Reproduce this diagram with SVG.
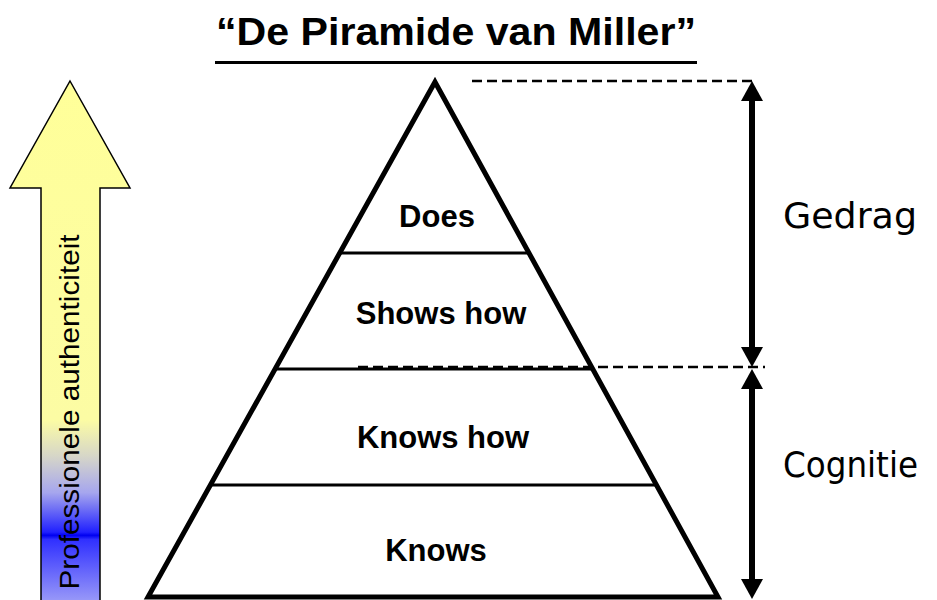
<svg xmlns="http://www.w3.org/2000/svg" width="937" height="600" viewBox="0 0 937 600">
  <style>
    .lvl { font-family: "Liberation Sans", Arial, sans-serif; font-weight: bold; font-size: 31px; fill: #000; text-anchor: middle; }
    .side { font-family: "DejaVu Sans", Verdana, sans-serif; font-size: 35px; fill: #000; }
    .title { font-family: "Liberation Sans", Arial, sans-serif; font-weight: bold; font-size: 38px; fill: #000; text-anchor: middle; }
    .vert { font-family: "Liberation Sans", Arial, sans-serif; font-size: 28px; fill: #000; text-anchor: middle; }
    .tier { stroke: #000; stroke-width: 3; fill: none; }
    .dash { stroke: #000; stroke-width: 2.5; stroke-dasharray: 10 5; fill: none; }
    .dim { stroke: #000; stroke-width: 6; fill: none; marker-start: url(#ah); marker-end: url(#ah); }
  </style>
  <defs>
    <linearGradient id="auth" x1="0" y1="0" x2="0" y2="1">
      <stop offset="0" stop-color="#FFFF99"/>
      <stop offset="0.65" stop-color="#FCFCA4"/>
      <stop offset="0.72" stop-color="#D6D6C8"/>
      <stop offset="0.79" stop-color="#A6A6EE"/>
      <stop offset="0.866" stop-color="#2020FF"/>
      <stop offset="0.872" stop-color="#0000F0"/>
      <stop offset="0.88" stop-color="#3030FF"/>
      <stop offset="1" stop-color="#9A9AF8"/>
    </linearGradient>
    <marker id="ah" viewBox="0 0 20 22" refX="10" refY="11" markerWidth="20" markerHeight="22" markerUnits="userSpaceOnUse" orient="auto-start-reverse">
      <path d="M0,0 L20,11 L0,22 Z" fill="#000"/>
    </marker>
  </defs>

  <g id="title">
    <text class="title" x="456" y="45" textLength="480" lengthAdjust="spacingAndGlyphs">“De Piramide van Miller”</text>
    <rect x="215" y="61" width="482" height="3" fill="#000"/>
  </g>

  <g id="authenticity-arrow">
    <path d="M70,81 L130,188 L100,188 L100,602 L41,602 L41,188 L10,188 Z" fill="url(#auth)" stroke="#000" stroke-width="1.5" stroke-linejoin="miter"/>
    <text class="vert" transform="translate(79,412) rotate(-90)" textLength="355" lengthAdjust="spacingAndGlyphs">Professionele authenticiteit</text>
  </g>

  <g id="pyramid">
    <path d="M435,82 L718,597 L148,597 Z" fill="#fff" stroke="#000" stroke-width="5" stroke-linejoin="miter"/>
  </g>

  <g id="connectors">
    <line class="tier" x1="339" y1="253" x2="530" y2="253"/>
    <line class="tier" x1="275" y1="369" x2="593" y2="369"/>
    <line class="tier" x1="210" y1="485" x2="657" y2="485"/>
    <line class="dash" x1="472" y1="81" x2="752" y2="81"/>
    <line class="dash" x1="358" y1="367" x2="765" y2="367"/>
    <line class="dim" x1="752" y1="91" x2="752" y2="357"/>
    <line class="dim" x1="752" y1="379" x2="752" y2="589"/>
  </g>

  <g id="does"><text class="lvl" x="437" y="227">Does</text></g>
  <g id="shows-how"><text class="lvl" x="441" y="324">Shows how</text></g>
  <g id="knows-how"><text class="lvl" x="443" y="448">Knows how</text></g>
  <g id="knows"><text class="lvl" x="436" y="561">Knows</text></g>

  <g id="gedrag"><text class="side" x="783" y="228" textLength="134" lengthAdjust="spacingAndGlyphs">Gedrag</text></g>
  <g id="cognitie"><text class="side" x="783" y="477" textLength="135" lengthAdjust="spacingAndGlyphs">Cognitie</text></g>
</svg>
